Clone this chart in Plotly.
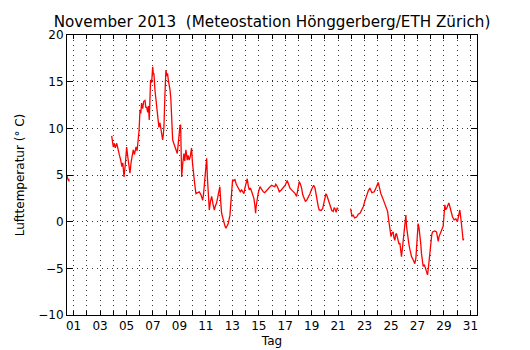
import plotly.graph_objects as go

# Segment 1 (start of month)
day_a = [0.50, 0.53, 0.56, 0.60, 0.63, 0.66]
temp_a = [4.9, 4.6, 4.8, 4.4, 4.6, 4.3]

# Segment 2 (4. - 21. Nov)
day_b = [3.88, 3.95, 4.00, 4.08, 4.15, 4.26, 4.35, 4.45, 4.56, 4.65, 4.72, 4.81, 4.90,
         5.01, 5.10, 5.18, 5.26, 5.35, 5.43, 5.51, 5.60, 5.72, 5.80, 5.89, 5.95, 6.02,
         6.08, 6.14, 6.22, 6.30, 6.40, 6.46, 6.52, 6.60, 6.66, 6.72, 6.78, 6.82, 6.90,
         6.98, 7.03, 7.07, 7.15, 7.22, 7.28, 7.35, 7.45, 7.53, 7.62, 7.73, 7.78, 7.83,
         7.90, 7.98, 8.05, 8.10, 8.16, 8.22, 8.29, 8.35, 8.41, 8.49, 8.57, 8.66, 8.75,
         8.84, 8.90, 8.97, 9.03, 9.09, 9.13, 9.17, 9.25, 9.34, 9.40, 9.49, 9.55, 9.59,
         9.66, 9.74, 9.82, 9.92, 9.98, 10.05, 10.15, 10.25, 10.35, 10.50, 10.62, 10.76,
         10.82, 10.88, 10.97, 11.06, 11.12, 11.18, 11.26, 11.35, 11.44, 11.55, 11.64,
         11.72, 11.81, 11.92, 12.06, 12.12, 12.19, 12.28, 12.36, 12.45, 12.52, 12.60,
         12.69, 12.82, 12.90, 13.02, 13.10, 13.20, 13.30, 13.38, 13.45, 13.52, 13.60,
         13.70, 13.80, 13.88, 13.95, 14.05, 14.13, 14.20, 14.28, 14.37, 14.46, 14.55,
         14.63, 14.70, 14.76, 14.80, 14.84, 14.95, 15.09, 15.20, 15.34, 15.45, 15.59,
         15.70, 15.82, 15.97, 16.10, 16.22, 16.28, 16.35, 16.45, 16.55, 16.70, 16.85,
         17.00, 17.15, 17.25, 17.36, 17.48, 17.61, 17.75, 17.86, 17.95, 18.06, 18.15,
         18.24, 18.32, 18.41, 18.52, 18.62, 18.75, 18.87, 18.97, 19.07, 19.15, 19.25,
         19.33, 19.42, 19.50, 19.57, 19.70, 19.83, 19.95, 20.08, 20.15, 20.25, 20.35,
         20.43, 20.52, 20.63, 20.70, 20.76, 20.85, 20.93, 21.00]
temp_b = [9.2, 8.3, 8.0, 8.4, 7.9, 8.4, 7.6, 7.2, 6.6, 5.9, 6.3, 4.8, 6.0,
          8.0, 6.9, 6.0, 5.2, 6.4, 7.3, 7.7, 7.2, 8.0, 7.6, 8.75, 9.8, 12.0,
          11.6, 12.7, 12.1, 12.9, 13.0, 12.2, 12.3, 11.7, 12.4, 10.9, 12.6, 15.2, 14.9,
          16.6, 15.8, 15.9, 14.1, 13.2, 12.0, 11.2, 10.1, 10.6, 9.6, 8.75, 9.3, 10.2,
          13.4, 16.25, 15.6, 15.9, 15.2, 14.8, 14.1, 13.2, 11.25, 8.75, 8.4, 8.0, 7.8,
          7.3, 8.2, 9.6, 10.1, 10.4, 8.0, 4.8, 6.2, 7.3, 6.5, 7.7, 7.1, 6.6,
          7.1, 6.6, 7.0, 7.9, 6.4, 5.2, 4.1, 3.0, 3.1, 3.2, 2.9, 2.3,
          2.9, 3.75, 5.1, 6.8, 4.6, 3.0, 1.25, 2.2, 2.7, 1.8, 1.25,
          1.7, 2.0, 2.8, 3.75, 2.2, 0.9, 0.4, -0.2, -0.5, -0.7, -0.5,
          -0.2, 0.7, 2.3, 4.5, 4.4, 4.5, 4.0, 3.8, 3.6, 3.4, 3.2,
          3.4, 3.1, 3.0, 3.6, 4.1, 4.6, 3.9, 3.4, 3.6, 3.2, 2.9,
          2.5, 1.8, 0.9, 1.6, 2.1, 3.0, 3.75, 3.5, 3.2, 3.1, 3.4,
          3.5, 3.7, 3.9, 3.8, 3.75, 4.0, 3.9, 3.6, 3.2, 3.4, 3.6,
          3.9, 4.4, 4.0, 3.6, 3.4, 3.2, 3.0, 2.7, 3.3, 4.3, 4.0,
          3.6, 2.9, 2.5, 2.2, 2.3, 2.6, 3.0, 3.4, 3.7, 3.9, 3.6,
          2.8, 2.1, 1.6, 1.25, 1.2, 1.4, 2.2, 3.0, 2.8, 2.3, 1.8,
          1.4, 1.2, 1.1, 1.5, 1.4, 1.0, 1.5, 1.3]

# Segment 3 (22. - 30. Nov)
day_c = [21.94, 21.97, 22.05, 22.14, 22.25, 22.40, 22.52, 22.65, 22.78, 22.90, 23.02,
         23.15, 23.28, 23.40, 23.55, 23.73, 23.82, 23.90, 24.03, 24.12, 24.23, 24.35,
         24.48, 24.60, 24.74, 24.82, 24.91, 25.00, 25.08, 25.16, 25.22, 25.29, 25.35,
         25.41, 25.50, 25.60, 25.67, 25.73, 25.79, 25.88, 25.99, 26.05, 26.12, 26.18,
         26.25, 26.35, 26.43, 26.50, 26.55, 26.68, 26.80, 26.88, 26.93, 27.00, 27.05,
         27.12, 27.18, 27.25, 27.30, 27.37, 27.43, 27.52, 27.61, 27.68, 27.76, 27.82,
         27.86, 27.94, 28.01, 28.08, 28.14, 28.30, 28.44, 28.50, 28.57, 28.63, 28.69,
         28.80, 28.94, 29.00, 29.07, 29.13, 29.20, 29.28, 29.37, 29.45, 29.52, 29.65,
         29.77, 29.90, 30.02, 30.10, 30.20, 30.26, 30.32, 30.38, 30.45, 30.50]
temp_c = [1.4, 1.1, 0.6, 0.7, 0.4, 0.5, 0.8, 0.9, 1.2, 1.6, 2.2,
          2.9, 3.3, 3.6, 3.1, 3.2, 3.6, 3.75, 4.2, 3.6, 3.0, 2.6,
          2.1, 1.6, 1.1, 0.2, -0.9, -1.6, -1.2, -1.1, -1.7, -2.0, -1.4,
          -1.25, -1.8, -2.4, -2.3, -3.1, -3.75, -2.6, -1.25, -0.4, 0.7, -0.6,
          -1.6, -2.4, -3.0, -3.4, -3.75, -4.1, -4.5, -3.9, -3.0, -1.6, -0.2,
          -0.7, -1.25, -2.4, -3.4, -4.2, -4.8, -4.6, -5.0, -5.3, -5.7, -5.0,
          -4.5, -3.2, -2.0, -1.4, -1.1, -1.0, -1.1, -1.7, -2.1, -1.6, -1.4,
          -1.0, -0.5, 0.6, 1.8, 1.3, 1.4, 1.7, 2.0, 1.6, 1.1, 0.5,
          0.2, 0.3, 0.0, 0.5, 1.25, 0.6, 0.0, -1.0, -2.0, -1.8]

x_tick_days = list(range(1, 32))
x_tick_text = [f"{d:02d}" if d % 2 == 1 else "" for d in x_tick_days]
y_ticks = [-10, -5, 0, 5, 10, 15, 20]

xs = day_a + [None] + day_b + [None] + day_c
ys = temp_a + [None] + temp_b + [None] + temp_c

fig = go.Figure()
fig.add_trace(go.Scatter(x=xs, y=ys, mode="lines", line=dict(color="#ff0000", width=1.3),
                         connectgaps=False, hoverinfo="skip"))

font = "DejaVu Sans, Liberation Sans, sans-serif"
W, H = 522, 342  # page body has an 8px margin
fig.update_layout(
    width=W, height=H,
    margin=dict(l=59, r=53, t=27, b=35, autoexpand=False),
    paper_bgcolor="white", plot_bgcolor="white",
    showlegend=False,
    font=dict(family=font, size=12, color="black"),
    title=dict(text="November 2013  (Meteostation Hönggerberg/ETH Zürich)",
               x=264 / W, xanchor="center", y=1 - 13.5 / H, yanchor="middle",
               yref="container", xref="container",
               font=dict(family=font, size=15.2, color="black")),
)
grid_dash = "1px,4px"
fig.update_xaxes(
    range=[0.5, 31.5], tickmode="array", tickvals=x_tick_days, ticktext=x_tick_text,
    ticks="inside", ticklen=4, tickcolor="black", tickwidth=1,
    showline=True, linecolor="black", linewidth=1, mirror="allticks",
    showgrid=True, gridcolor="#333333", gridwidth=1, griddash=grid_dash,
    zeroline=False, tickfont=dict(size=12), automargin=False,
    title=dict(text="Tag", font=dict(size=12), standoff=4),
)
fig.update_yaxes(
    range=[-10, 20], tickmode="array", tickvals=y_ticks,
    ticks="inside", ticklen=6, tickcolor="black", tickwidth=1,
    showline=True, linecolor="black", linewidth=1, mirror="allticks",
    showgrid=True, gridcolor="#333333", gridwidth=1, griddash=grid_dash,
    zeroline=False, tickfont=dict(size=12), automargin=False,
    title=dict(text="Lufttemperatur (° C)", font=dict(size=12), standoff=11),
)

fig.write_html("out.html")
